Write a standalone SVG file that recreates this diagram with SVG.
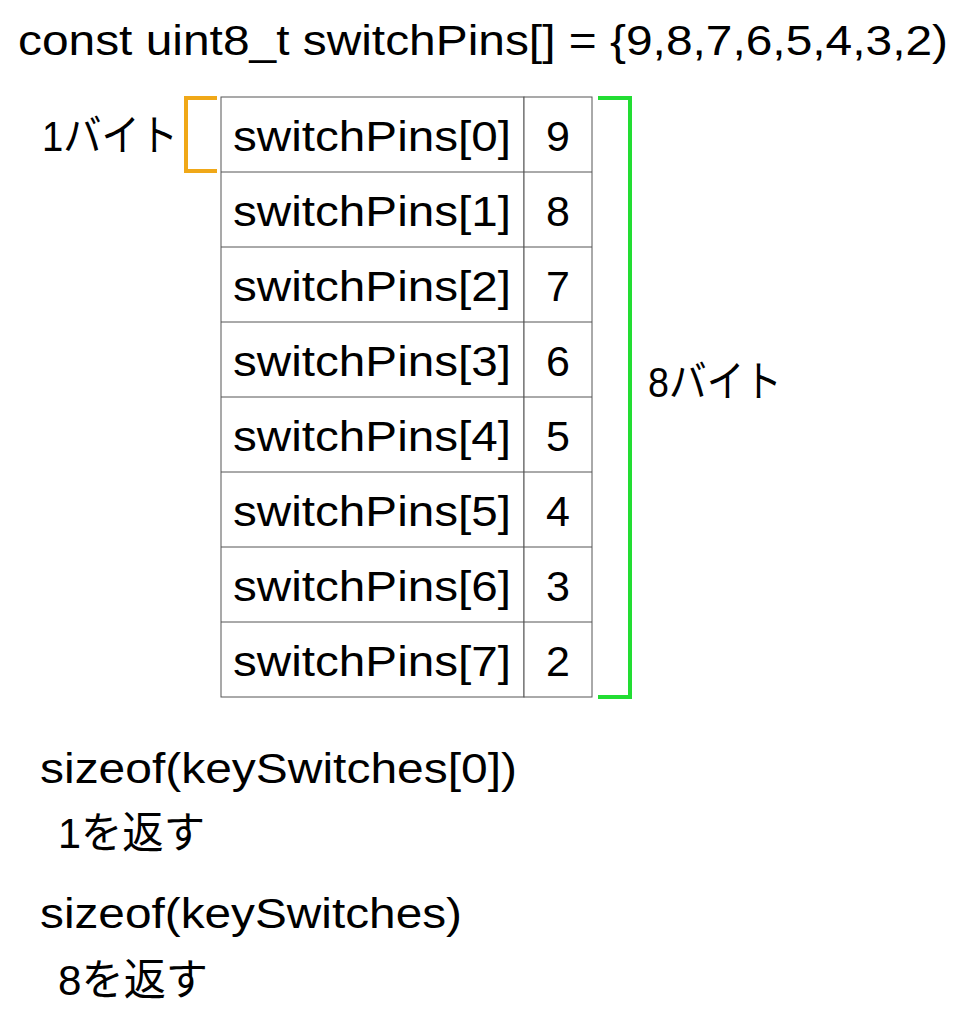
<svg xmlns="http://www.w3.org/2000/svg" width="969" height="1021" viewBox="0 0 969 1021">
<style>
text{font-family:"Liberation Sans","Noto Sans CJK JP",sans-serif;font-size:43px;fill:#000}
.c{fill:#fff;stroke:#555;stroke-width:1}
.n{text-anchor:middle}
</style>
<rect width="969" height="1021" fill="#fff"/>
<text x="18" y="55" textLength="930" lengthAdjust="spacingAndGlyphs">const uint8_t switchPins[] = {9,8,7,6,5,4,3,2)</text>
<g id="table">
<rect class="c" x="221" y="97" width="303" height="600"/>
<rect class="c" x="524" y="97" width="68" height="600"/>
<g stroke="#555" stroke-width="1">
<line x1="221" y1="172" x2="592" y2="172"/><line x1="221" y1="247" x2="592" y2="247"/>
<line x1="221" y1="322" x2="592" y2="322"/><line x1="221" y1="397" x2="592" y2="397"/>
<line x1="221" y1="472" x2="592" y2="472"/><line x1="221" y1="547" x2="592" y2="547"/>
<line x1="221" y1="622" x2="592" y2="622"/>
</g>
<g lengthAdjust="spacingAndGlyphs">
<text x="233" y="151" textLength="278" lengthAdjust="spacingAndGlyphs">switchPins[0]</text><text class="n" x="558" y="151">9</text>
<text x="233" y="226" textLength="278" lengthAdjust="spacingAndGlyphs">switchPins[1]</text><text class="n" x="558" y="226">8</text>
<text x="233" y="301" textLength="278" lengthAdjust="spacingAndGlyphs">switchPins[2]</text><text class="n" x="558" y="301">7</text>
<text x="233" y="376" textLength="278" lengthAdjust="spacingAndGlyphs">switchPins[3]</text><text class="n" x="558" y="376">6</text>
<text x="233" y="451" textLength="278" lengthAdjust="spacingAndGlyphs">switchPins[4]</text><text class="n" x="558" y="451">5</text>
<text x="233" y="526" textLength="278" lengthAdjust="spacingAndGlyphs">switchPins[5]</text><text class="n" x="558" y="526">4</text>
<text x="233" y="601" textLength="278" lengthAdjust="spacingAndGlyphs">switchPins[6]</text><text class="n" x="558" y="601">3</text>
<text x="233" y="676" textLength="278" lengthAdjust="spacingAndGlyphs">switchPins[7]</text><text class="n" x="558" y="676">2</text>
</g>
</g>
<g id="brackets" fill="none" stroke-width="4">
<path d="M217 98 H186 V171 H217" stroke="#f0a818"/>
<path d="M598 98 H630 V697 H598" stroke="#22dd33"/>
</g>
<text x="42" y="151" textLength="136" lengthAdjust="spacingAndGlyphs">1バイト</text>
<text x="648" y="397" textLength="134" lengthAdjust="spacingAndGlyphs">8バイト</text>
<text x="40" y="783" textLength="477" lengthAdjust="spacingAndGlyphs">sizeof(keySwitches[0])</text>
<text x="58" y="848" textLength="147" lengthAdjust="spacingAndGlyphs">1を返す</text>
<text x="40" y="928" textLength="422" lengthAdjust="spacingAndGlyphs">sizeof(keySwitches)</text>
<text x="58" y="995" textLength="150" lengthAdjust="spacingAndGlyphs">8を返す</text>
</svg>
